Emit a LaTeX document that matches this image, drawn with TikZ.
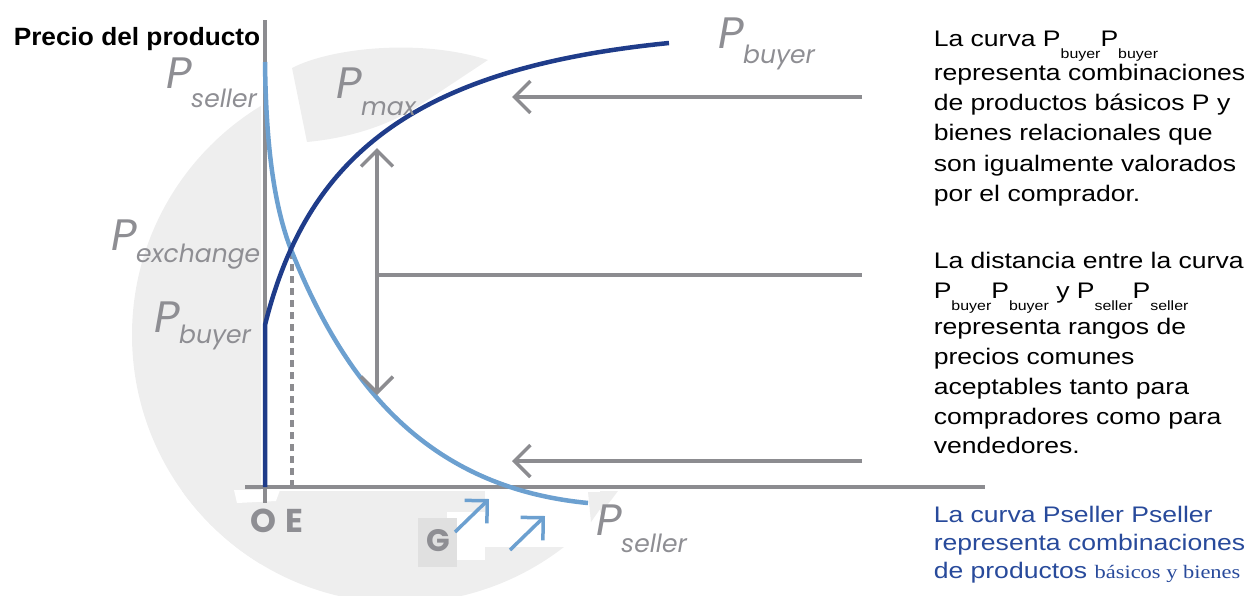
\documentclass[tikz,border=0pt]{standalone}
\usepackage{fontspec}
\setmainfont{Liberation Sans}[FakeStretch=1.18]
\newfontfamily\titlefont{Liberation Sans}[FakeStretch=1.05]
\newfontfamily\seriffont{Liberation Serif}[FakeStretch=1.18]
\newfontfamily\lblfont{Poppins}
\usetikzlibrary{arrows.meta}

\definecolor{buyerblue}{RGB}{31,60,138}
\definecolor{sellerblue}{RGB}{108,160,208}
\definecolor{axisgray}{RGB}{140,140,144}
\definecolor{bggray}{RGB}{238,238,238}
\definecolor{boxgray}{RGB}{224,224,224}
\definecolor{lblgray}{RGB}{142,142,147}
\definecolor{textblue}{RGB}{40,74,155}

\newcommand{\bsub}[1]{\raisebox{-12pt}{\fontsize{13.5}{13.5}\selectfont #1}}
\newcommand{\psub}[2]{\kern-1pt\raisebox{-#1pt}{\fontsize{25}{25}\selectfont #2}}

\begin{document}
\begin{tikzpicture}[x=1pt,y=-1pt,line width=3.5pt,>={Straight Barb[length=16pt,width=32pt]},
  axis/.style={draw=axisgray,line width=3.5pt},
  curvebuyer/.style={draw=buyerblue,line width=4.5pt},
  curveseller/.style={draw=sellerblue,line width=4.5pt},
  plbl/.style={text=lblgray,inner sep=0pt,anchor=base west,font=\lblfont\itshape\fontsize{44}{44}\selectfont},
  axlbl/.style={text=lblgray,inner sep=0pt,anchor=base west,font=\lblfont\bfseries\fontsize{33}{33}\selectfont},
  txt/.style={inner sep=0pt,anchor=base west,font=\fontsize{22.5}{22.5}\selectfont}]
% canvas
\useasboundingbox (0,0) rectangle (1256,595);
% background disc
\begin{scope}
  \clip (400,335) circle (268pt);
  \fill[bggray] (0,0) rectangle (261,600);
  \fill[bggray] (0,491) rectangle (700,600);
\end{scope}
% cut-outs and patches
\fill[white] (234,490) -- (280,490) -- (276,501) -- (237,503) -- cycle;
\fill[white] (485,491) rectangle (600,547);
\fill[white] (447,512) rectangle (485,560);
\fill[boxgray] (418,518) rectangle (457,567);
\fill[bggray] (588,492) -- (612,492) -- (591,522) -- cycle;
\fill[bggray] (292,68) .. controls (330,48) and (420,38) .. (488,60) -- (420,105)
  .. controls (390,125) and (350,138) .. (307,142) -- cycle;
% axes
\coordinate (O) at (265,487);
\draw[axis] (265,20) -- (265,503);
\draw[axis] (245,487) -- (985,487);
% exchange point drop line
\coordinate (X) at (292,252);
\draw[axis,dash pattern=on 7pt off 5pt] (X) -- (X |- O);
% seller curve
\draw[curveseller] (265,62) .. controls (266,150) and (275,210) .. (X)
  .. controls (343,378) and (422,487) .. (588,503);
% buyer curve
\draw[curvebuyer] (O) -- (265,325) .. controls (308,152) and (419,68) .. (669,43);
% arrows
\coordinate (vtop) at (377,148);
\coordinate (vbot) at (377,395);
\coordinate (vmid) at (377,275);
\draw[axis,<->] (vtop) -- (vbot);
\draw[axis] (vmid) -- (862,275);
\draw[axis,->] (862,97) -- (512,97);
\draw[axis,->] (862,461) -- (512,461);
\draw[sellerblue,line width=3.5pt,->] (455,532) -- (489,499);
\draw[sellerblue,line width=3.5pt,->] (510,550) -- (545,516);
% curve labels
\node[plbl] (Psellertop) at (165,88) {P\psub{19}{seller}};
\node[plbl] (Pmax) at (335,98) {P\psub{17}{max}};
\node[plbl] (Pexch) at (110,250) {P\psub{12}{exchange}};
\node[plbl] (Pbuyerleft) at (153,332) {P\psub{11}{buyer}};
\node[plbl] (Pbuyertop) at (717,48) {P\psub{15}{buyer}};
\node[plbl] (Psellerbot) at (595,535) {P\psub{17}{seller}};
% axis letters
\node[axlbl] (Olbl) at (249,532) {O};
\node[axlbl] (Elbl) at (284,532) {E};
\node[axlbl,font=\lblfont\bfseries\fontsize{31}{31}\selectfont] (Glbl) at (425,551) {G};
% title
\node[inner sep=0pt,anchor=base west,font=\titlefont\bfseries\fontsize{25}{25}\selectfont] (title) at (12,45) {Precio del producto};
% notes
\foreach \yy/\ln [count=\i] in {46/{La curva P\bsub{buyer}P\bsub{buyer}},
    80/representa combinaciones, 110/de productos básicos P y,
    140/bienes relacionales que, 171/son igualmente valorados, 201/por el comprador.,
    268/La distancia entre la curva,
    298/{P\bsub{buyer}P\bsub{buyer} y P\bsub{seller}P\bsub{seller}},
    334/representa rangos de, 364/precios comunes, 394/aceptables tanto para,
    424/compradores como para, 453/vendedores.}
  \node[txt] (note\i) at (932,\yy) {\ln};
\foreach \yy/\ln [count=\i] in {522/La curva Pseller Pseller, 550/representa combinaciones,
    578/{de productos {\seriffont\fontsize{19}{19}\selectfont básicos y bienes}}}
  \node[txt,text=textblue] (blue\i) at (932,\yy) {\ln};
\end{tikzpicture}
\end{document}
